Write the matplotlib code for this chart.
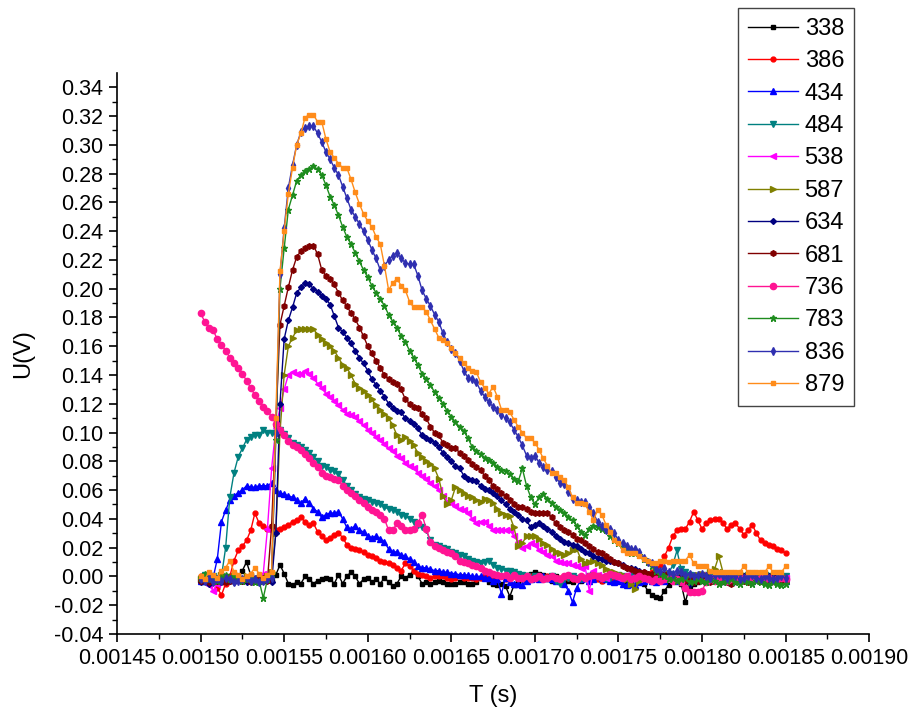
import numpy as np
import matplotlib
matplotlib.use("Agg")
import matplotlib.pyplot as plt

plt.rcParams['font.family'] = ['Liberation Sans', 'DejaVu Sans']

# time axis: 141 samples, 2.5 us apart, starting at 1.5 ms
t_start = 0.0015
t_step = 2.5e-6
n_points = 141

# signals in mV
u_338 = [-3, -4, -2, -3, -1, -4, -2, -1, 2, 0,
         4, 10, 1, -1, -4, -3, -2, -3, 1, 8,
         2, -5, -6, -4, -5, 0, -2, -5, -3, -2,
         -1, -2, -5, 1, -5, 0, 3, 0, -5, -2,
         -1, -4, -2, -5, -1, -4, -7, -5, 0, -1,
         1, 4, 0, -5, -4, -5, -4, -3, -4, -5,
         -5, -5, -4, -4, -5, -5, -4, -1, 0, -4,
         -5, -6, -5, -7, -14, -6, -3, -2, 1, 2,
         3, 2, 1, -2, -3, 0, -2, -4, -3, -4,
         -2, -3, -2, -1, 0, -2, -3, -1, 0, -2,
         -1, -2, -4, -3, -2, -3, -5, -10, -13, -14,
         -15, -10, -6, -3, -3, -5, -18, -7, -5, -4,
         -3, -2, -3, -1, -2, -3, -2, -1, -2, -3,
         -2, -1, -3, -2, -1, -2, -3, -2, -1, -2, -3]

u_386 = [0, -3, 2, -4, -8, -13, -5, 0, 11, 18,
         21, 25, 32, 44, 37, 35, 33, 35, 32, 33,
         34, 36, 38, 39, 41, 38, 36, 37, 31, 28,
         25, 27, 29, 30, 27, 22, 20, 19, 18, 17,
         15, 14, 13, 11, 10, 9, 8, 6, 4, 9,
         7, 4, 2, 1, 0, -1, 0, 0, 0, -1,
         -2, -1, 0, -1, -1, -1, -2, -1, 0, -1,
         -2, -1, 0, -2, -1, 0, -1, -2, -1, 0,
         -1, -2, -1, 0, -1, -2, -1, 0, -1, -2,
         -1, -2, -1, 0, -1, -2, -3, -2, -1, -2,
         -1, -2, -1, 0, 0, 1, 0, 2, 3, 5,
         8, 14, 20, 28, 32, 33, 33, 38, 45, 39,
         33, 37, 39, 40, 40, 37, 33, 36, 37, 33,
         29, 32, 36, 30, 25, 23, 22, 21, 19, 18, 16]

u_434 = [-3, -2, -4, -1, 12, 38, 46, 53, 56, 58,
         60, 63, 62, 62, 63, 63, 63, 65, 60, 58,
         57, 56, 55, 53, 51, 54, 51, 47, 45, 41,
         43, 44, 44, 45, 40, 34, 33, 35, 32, 31,
         28, 27, 28, 26, 24, 19, 17, 17, 15, 14,
         12, 10, 7, 6, 6, 5, 4, 4, 3, 3,
         2, 2, 1, 1, 1, 0, 0, 0, -1, -1,
         -3, -2, -12, -1, -4, -5, -5, -6, -3, -2,
         -1, -2, 0, -1, -2, -3, -2, -5, -10, -18,
         -8, -2, -1, -3, -2, 0, -1, -2, -3, -4,
         -3, -5, -6, -5, -6, -4, -3, -2, -3, -4,
         -2, -3, -1, -2, -3, -2, -1, -3, -2, -1,
         -2, -3, -2, -1, -2, -3, -2, -4, -3, -2,
         -1, -2, -3, -2, -1, -2, -3, -2, -1, -2, -3]

u_484 = [-2, 1, -3, 0, -1, 0, 20, 55, 72, 83,
         89, 95, 97, 98, 98, 102, 100, 100, 100, 102,
         99, 96, 93, 91, 90, 88, 86, 83, 80, 77,
         76, 74, 73, 71, 67, 63, 60, 57, 55, 54,
         53, 52, 51, 50, 48, 47, 46, 45, 43, 42,
         40, 38, 36, 34, 32, 25, 22, 21, 20, 19,
         17, 16, 15, 14, 12, 11, 10, 9, 10, 11,
         8, 6, 5, 4, 4, 3, 2, 1, 0, -1,
         0, -1, -2, -1, 0, -3, -5, -2, -1, 0,
         -1, -2, -1, 0, 1, 0, -1, -2, -1, 0,
         1, 0, -1, 0, 1, 2, 1, 0, -1, 0,
         1, 0, 2, 8, 18, 5, 3, 1, 0, -1,
         0, 1, 0, -1, 0, 1, 2, 1, 0, -1,
         0, 1, 0, -1, 0, 1, 0, -1, -2, -1, 0]

u_538 = [-2, -4, -6, -10, -5, -2, -3, -1, 0, -2,
         -1, -2, -3, -1, 0, 2, 33, 75, 103, 117,
         130, 140, 142, 141, 141, 143, 141, 138, 134, 131,
         127, 125, 122, 119, 116, 113, 112, 111, 108, 105,
         102, 100, 97, 95, 92, 89, 87, 84, 82, 79,
         77, 75, 72, 70, 68, 65, 63, 60, 56, 52,
         51, 49, 47, 46, 44, 40, 37, 38, 38, 35,
         32, 32, 32, 32, 32, 28, 24, 20, 21, 23,
         22, 18, 17, 15, 14, 11, 10, 9, 9, 8,
         7, 6, 7, -10, 4, 1, 0, -1, 1, 0,
         -1, 0, 1, -1, 0, -2, -1, 0, 1, -1,
         0, -2, -1, 0, 1, 0, -1, -2, -1, 0,
         1, 0, -1, -2, -1, 0, 1, 0, -1, -2,
         -1, 0, 1, 0, -1, -2, -1, 0, -1, -2, -1]

u_587 = [-2, 0, -3, -1, -2, 1, -1, -3, 0, -2,
         -1, 0, -2, -3, -1, -2, 0, 3, 30, 100,
         140, 160, 166, 171, 172, 172, 172, 172, 168, 165,
         162, 160, 157, 152, 147, 145, 140, 134, 131, 129,
         126, 123, 119, 116, 113, 110, 105, 98, 95, 97,
         94, 91, 86, 83, 80, 78, 75, 68, 56, 50,
         53, 62, 60, 58, 56, 55, 53, 52, 54, 53,
         51, 47, 44, 43, 42, 34, 21, 23, 28, 28,
         28, 26, 23, 22, 19, 17, 16, 15, 16, 18,
         19, 12, 9, 10, 11, 9, 8, 5, 4, 3,
         2, 1, -2, -5, -9, -3, 0, 1, 0, -1,
         0, 1, 2, 0, -1, 1, 0, -1, 0, 1,
         2, 1, 3, 5, 14, 3, 1, 0, -1, 0,
         1, 0, -1, 0, 1, 0, -1, 0, 1, 0, -1]

u_634 = [-4, -3, -5, -2, -3, -4, -2, -3, -4, -2,
         -3, -4, -2, -3, -4, -3, -2, -4, 30, 120,
         165, 178, 187, 197, 201, 204, 203, 200, 198, 195,
         193, 189, 181, 173, 170, 166, 162, 157, 152, 148,
         143, 137, 133, 129, 125, 120, 117, 115, 114, 110,
         108, 106, 103, 98, 96, 95, 93, 90, 86, 83,
         80, 77, 75, 70, 68, 67, 66, 63, 61, 60,
         58, 56, 53, 50, 47, 45, 43, 40, 39, 34,
         36, 37, 35, 33, 31, 28, 26, 24, 23, 22,
         21, 19, 17, 16, 14, 13, 12, 11, 11, 10,
         9, 8, 6, 6, 5, 4, 3, 2, 1, 0,
         -1, 0, 1, -2, -1, 0, -3, -5, -2, 0,
         1, 0, -1, -2, 0, 1, 0, -1, -2, -1,
         0, 1, 0, -1, -2, -1, 0, 1, 0, -1, -2]

u_681 = [-3, -2, -4, -1, -3, -2, -4, -3, -1, -2,
         -3, -2, -4, -3, -2, -1, -3, 35, 105, 175,
         188, 201, 213, 222, 226, 228, 230, 230, 224, 213,
         209, 207, 203, 197, 192, 188, 183, 179, 173, 167,
         160, 155, 150, 145, 140, 137, 135, 134, 130, 123,
         120, 118, 117, 113, 110, 104, 100, 98, 93, 91,
         89, 89, 86, 84, 81, 78, 76, 74, 70, 67,
         63, 61, 58, 56, 53, 50, 48, 48, 47, 45,
         44, 44, 44, 44, 41, 37, 34, 32, 31, 29,
         26, 25, 23, 21, 19, 17, 16, 14, 12, 10,
         9, 7, 6, 5, 4, 3, 3, 2, 2, 1,
         1, 2, 0, -1, -2, -1, -3, -2, -4, -3,
         -2, -3, -4, -3, -2, -3, -4, -5, -3, -2,
         -3, -4, -3, -2, -3, -4, -3, -2, -3, -4, -3]

u_736 = [183, 177, 173, 171, 165, 161, 157, 152, 148, 145,
         141, 136, 131, 126, 122, 118, 115, 111, 106, 102,
         98, 94, 91, 90, 88, 85, 82, 79, 76, 72,
         70, 69, 68, 67, 63, 60, 58, 56, 53, 51,
         48, 46, 45, 43, 40, 32, 32, 37, 35, 32,
         32, 33, 37, 43, 33, 24, 21, 20, 18, 17,
         16, 14, 11, 10, 9, 8, 7, 6, 4, 3,
         2, 1, 0, 1, -1, 1, -1, -1, 0, -2,
         -1, 0, -2, -1, 0, -1, -2, 0, 1, -1,
         -2, 0, -1, 0, 1, 0, -1, 0, 2, 1,
         0, -1, 0, -2, -1, 0, -1, -2, -3, -2,
         -3, -2, -1, -3, -2, -4, -8, -11, -11, -11,
         -10, -4, -2, -3, -2, -1, -3, -2, -1, -2,
         -1, -2, -3, -2, -1, -2, -1, -3, -2, -1, -2]

u_783 = [-1, 2, -2, 0, -3, -1, 1, -2, 0, -1,
         -3, -2, -1, -4, -3, -15, -2, 2, 95, 200,
         228, 255, 265, 275, 279, 282, 283, 285, 283, 279,
         272, 264, 258, 251, 243, 236, 231, 225, 219, 213,
         208, 202, 197, 193, 188, 182, 177, 173, 167, 163,
         157, 152, 147, 141, 137, 133, 128, 124, 120, 115,
         111, 107, 104, 101, 96, 90, 87, 85, 82, 81,
         79, 76, 74, 73, 71, 68, 66, 75, 63, 55,
         50, 55, 57, 54, 51, 48, 46, 44, 41, 39,
         35, 31, 29, 33, 35, 34, 33, 32, 28, 25,
         23, 20, 18, 16, 16, 15, 12, 10, 7, 4,
         2, 0, -2, -1, -3, -2, -1, -4, -3, -2,
         -3, -4, -2, -3, -5, -4, -3, -2, -4, -5,
         -3, -4, -5, -3, -4, -5, -6, -4, -5, -6, -5]

u_836 = [-2, -3, -1, -4, -2, -3, -1, -2, -4, -3,
         -2, -1, -3, -2, -4, -3, -2, -1, 100, 210,
         242, 270, 286, 300, 309, 312, 313, 313, 308, 302,
         295, 290, 284, 279, 271, 263, 255, 250, 245, 240,
         234, 227, 221, 213, 216, 220, 223, 225, 221, 218,
         217, 217, 209, 199, 193, 188, 182, 177, 169, 163,
         158, 155, 150, 143, 138, 137, 135, 129, 125, 121,
         118, 116, 112, 110, 107, 102, 97, 91, 84, 82,
         84, 79, 76, 74, 73, 69, 65, 64, 59, 54,
         53, 52, 52, 48, 44, 38, 35, 32, 33, 30,
         25, 23, 21, 19, 19, 17, 13, 10, 9, 5,
         4, 6, 3, 2, 4, 3, 1, 2, 0, 1,
         2, 0, -1, 1, 2, 0, -1, 1, 0, -2,
         -1, 0, 1, -1, -2, 0, -1, -2, -1, 0, -1]

u_879 = [0, -2, 3, 1, -1, 4, 6, 11, 3, 1,
         -2, 0, 2, 6, 2, -1, 1, 3, 110, 212,
         240, 266, 284, 300, 308, 319, 321, 321, 316, 316,
         304, 295, 291, 287, 284, 284, 276, 267, 259, 252,
         247, 243, 236, 231, 216, 199, 204, 207, 202, 199,
         191, 187, 187, 187, 184, 178, 172, 166, 164, 162,
         159, 155, 152, 148, 145, 143, 142, 135, 131, 127,
         132, 125, 116, 116, 114, 109, 104, 100, 96, 96,
         93, 88, 82, 77, 72, 72, 69, 67, 62, 55,
         51, 51, 50, 45, 39, 46, 43, 36, 31, 25,
         23, 18, 16, 16, 16, 14, 12, 11, 9, 9,
         11, 11, 10, 11, 11, 11, 11, 15, 9, 7,
         7, 7, 4, 3, 3, 3, 3, 3, 3, 3,
         7, 3, 3, 3, 3, 3, 7, 3, 3, 3, 7]

labels = ['338', '386', '434', '484', '538', '587',
          '634', '681', '736', '783', '836', '879']
signals = [u_338, u_386, u_434, u_484, u_538, u_587,
           u_634, u_681, u_736, u_783, u_836, u_879]
colors = ['#000000', '#ff0000', '#0000ff', '#008080', '#ff00ff', '#808000',
          '#000080', '#800000', '#ff1493', '#1e8c1e', '#2f2fb0', '#ff8c1a']
markers = ['s', 'o', '^', 'v', '<', '>', 'D', 'h', 'o', '*', 'd', 's']
msizes = [3.5, 3.5, 4, 4, 4, 4, 3, 4, 4.5, 5, 4, 3.5]

t = t_start + t_step * np.arange(n_points)

fig = plt.figure(figsize=(9.14, 7.22), dpi=100)
ax = fig.add_axes([0.128, 0.122, 0.823, 0.777])

for lab, u, c, m, ms in zip(labels, signals, colors, markers, msizes):
    ax.plot(t, np.array(u) / 1000.0, color=c, marker=m, markersize=ms,
            linewidth=1.0, label=lab)

ax.set_xlim(0.00145, 0.00190)
ax.set_ylim(-0.04, 0.35)
xt = np.arange(0.00145, 0.001901, 0.00005)
yt = np.arange(-0.04, 0.3401, 0.02)
ax.set_xticks(xt)
ax.set_xticklabels(['%.5f' % v for v in xt])
ax.set_yticks(yt)
ax.set_yticklabels(['%.2f' % v for v in yt])
ax.set_xticks(np.arange(0.001475, 0.0019, 0.00005), minor=True)
ax.set_yticks(np.arange(-0.03, 0.35, 0.02), minor=True)

for s in ['top', 'right']:
    ax.spines[s].set_visible(False)
for s in ['left', 'bottom']:
    ax.spines[s].set_linewidth(1.2)

ax.tick_params(which='major', direction='out', length=6, width=1.2,
               labelsize=15.5, pad=4)
ax.tick_params(which='minor', direction='out', length=3.5, width=1.0)

ax.set_xlabel('T (s)', fontsize=17, labelpad=12)
ax.set_ylabel('U(V)', fontsize=17, labelpad=14)

fig.legend(loc='upper left', bbox_to_anchor=(738 / 914, 1 - 8 / 722),
           bbox_transform=fig.transFigure, fontsize=17, numpoints=1,
           frameon=True, fancybox=False, edgecolor='#444444', framealpha=1,
           handlelength=2.1, labelspacing=0.44, borderpad=0.42,
           handletextpad=0.3, borderaxespad=0)

fig.savefig('out.png', dpi=100)
